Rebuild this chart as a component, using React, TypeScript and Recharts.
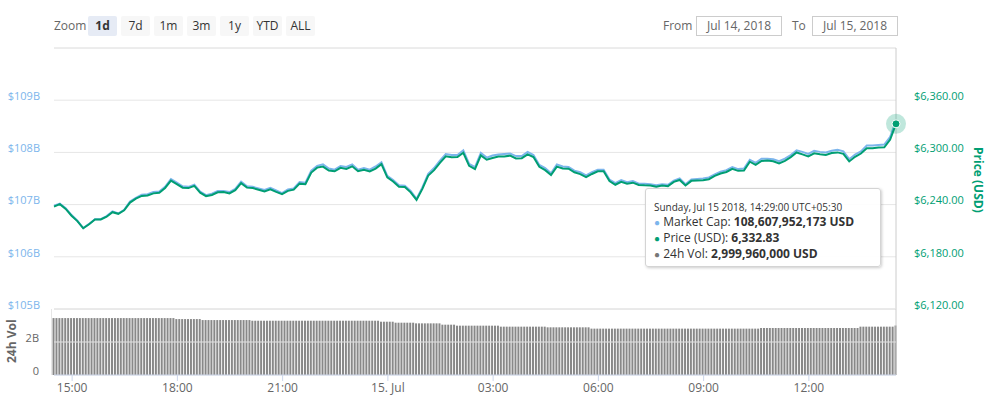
import {
  ComposedChart,
  BarChart,
  Line,
  Bar,
  XAxis,
  YAxis,
  CartesianGrid,
  ReferenceLine,
} from "recharts";

// x positions are minutes after Jul 14, 14:29 (one day window)
const tickMinutes = [31, 211, 391, 571, 751, 931, 1111, 1291];
const tickLabels = ["15:00", "18:00", "21:00", "15. Jul", "03:00", "06:00", "09:00", "12:00"];
const capTicks = [105, 106, 107, 108, 109, 110];
const priceTicks = [6120, 6180, 6240, 6300, 6360, 6420];
const volTicks = [0, 2, 4];
const zoomButtons = ["1d", "7d", "1m", "3m", "1y", "YTD", "ALL"];

// price (USD), every 10 minutes
const prices = [
  6237.7, 6240.5, 6235.0, 6227.2, 6221.0, 6212.8, 6217.4, 6223.0, 6222.9, 6226.1, 6231.3, 6229.4,
  6233.4, 6242.3, 6246.9, 6250.0, 6250.5, 6252.9, 6253.5, 6259.1, 6267.6, 6263.5, 6259.4, 6259.0,
  6261.5, 6253.7, 6249.7, 6251.1, 6254.2, 6254.4, 6252.9, 6256.6, 6264.7, 6259.5, 6259.0, 6257.0,
  6255.2, 6257.6, 6254.6, 6252.0, 6255.8, 6257.2, 6264.1, 6263.4, 6276.8, 6282.5, 6283.7, 6279.2,
  6278.3, 6282.3, 6281.0, 6284.0, 6278.3, 6279.9, 6278.1, 6281.4, 6286.5, 6271.3, 6266.6, 6260.6,
  6260.2, 6254.1, 6245.4, 6258.1, 6273.3, 6279.6, 6288.0, 6295.6, 6294.5, 6294.6, 6299.6, 6284.6,
  6280.8, 6296.6, 6291.6, 6293.6, 6295.3, 6295.4, 6296.3, 6293.1, 6293.4, 6297.8, 6294.7, 6283.4,
  6279.6, 6273.9, 6283.7, 6281.5, 6281.2, 6277.2, 6275.1, 6271.5, 6275.2, 6278.3, 6278.4, 6267.1,
  6262.8, 6266.2, 6263.9, 6265.2, 6262.5, 6262.1, 6261.9, 6260.5, 6261.9, 6261.2, 6266.1, 6268.3,
  6262.0, 6267.3, 6267.8, 6268.0, 6269.2, 6273.0, 6275.8, 6277.5, 6281.2, 6278.8, 6279.1, 6289.3,
  6285.7, 6290.2, 6290.6, 6289.8, 6287.3, 6290.3, 6294.6, 6299.9, 6297.7, 6295.4, 6299.0, 6297.8,
  6297.1, 6299.2, 6300.0, 6298.3, 6289.6, 6294.9, 6298.7, 6304.8, 6304.8, 6305.5, 6305.9, 6314.8,
  6332.83,
];

// market cap (billion USD), same timestamps
const marketCaps = [
  106.98, 107.02, 106.93, 106.8, 106.69, 106.55, 106.63, 106.72, 106.72, 106.78, 106.87, 106.83,
  106.9, 107.06, 107.13, 107.19, 107.2, 107.24, 107.25, 107.34, 107.49, 107.42, 107.35, 107.34,
  107.38, 107.25, 107.18, 107.21, 107.26, 107.26, 107.24, 107.3, 107.44, 107.35, 107.34, 107.31,
  107.28, 107.32, 107.27, 107.22, 107.29, 107.31, 107.43, 107.42, 107.65, 107.74, 107.77, 107.69,
  107.67, 107.74, 107.72, 107.77, 107.67, 107.7, 107.67, 107.73, 107.81, 107.55, 107.47, 107.37,
  107.36, 107.26, 107.11, 107.33, 107.59, 107.7, 107.84, 107.97, 107.95, 107.95, 108.04, 107.78,
  107.72, 107.99, 107.9, 107.94, 107.96, 107.97, 107.98, 107.93, 107.93, 108.01, 107.95, 107.76,
  107.7, 107.6, 107.77, 107.73, 107.72, 107.65, 107.62, 107.56, 107.62, 107.67, 107.67, 107.48,
  107.41, 107.47, 107.43, 107.45, 107.4, 107.4, 107.39, 107.37, 107.39, 107.38, 107.46, 107.5,
  107.39, 107.48, 107.49, 107.5, 107.52, 107.58, 107.63, 107.66, 107.72, 107.68, 107.69, 107.86,
  107.8, 107.88, 107.88, 107.87, 107.83, 107.88, 107.95, 108.04, 108.01, 107.97, 108.03, 108.01,
  108.0, 108.03, 108.05, 108.02, 107.87, 107.96, 108.02, 108.13, 108.13, 108.14, 108.15, 108.3,
  108.61,
];

// 24h volume (billion USD), every 5 minutes
const volumes = [
  3.45, 3.45, 3.45, 3.45, 3.45, 3.45, 3.45, 3.45, 3.45, 3.45, 3.45, 3.45, 3.45, 3.45, 3.45, 3.45, 3.45, 3.45, 3.45, 3.45, 3.45, 3.45, 3.45, 3.45,
  3.45, 3.45, 3.45, 3.45, 3.45, 3.45, 3.45, 3.45, 3.45, 3.45, 3.45, 3.45, 3.45, 3.45, 3.45, 3.45, 3.45, 3.45, 3.39, 3.39, 3.39, 3.39, 3.39, 3.39,
  3.39, 3.39, 3.39, 3.33, 3.33, 3.33, 3.33, 3.33, 3.33, 3.33, 3.33, 3.33, 3.33, 3.33, 3.33, 3.33, 3.33, 3.33, 3.33, 3.33, 3.29, 3.29, 3.29, 3.29,
  3.29, 3.29, 3.29, 3.29, 3.29, 3.29, 3.29, 3.29, 3.29, 3.29, 3.29, 3.29, 3.29, 3.29, 3.29, 3.29, 3.29, 3.29, 3.29, 3.29, 3.29, 3.29, 3.29, 3.29,
  3.29, 3.29, 3.29, 3.29, 3.29, 3.29, 3.29, 3.29, 3.29, 3.29, 3.29, 3.29, 3.29, 3.29, 3.29, 3.29, 3.23, 3.23, 3.23, 3.23, 3.23, 3.17, 3.17, 3.17,
  3.17, 3.17, 3.17, 3.17, 3.13, 3.13, 3.13, 3.13, 3.13, 3.13, 3.13, 3.13, 3.13, 3.05, 3.05, 3.05, 3.05, 3.05, 2.99, 2.99, 2.99, 2.99, 2.99, 2.99,
  2.99, 2.99, 2.99, 2.99, 2.99, 2.99, 2.99, 2.99, 2.99, 2.93, 2.93, 2.93, 2.93, 2.93, 2.93, 2.93, 2.93, 2.93, 2.93, 2.93, 2.93, 2.93, 2.93, 2.93,
  2.93, 2.89, 2.89, 2.89, 2.89, 2.89, 2.89, 2.89, 2.89, 2.89, 2.89, 2.89, 2.89, 2.89, 2.89, 2.89, 2.81, 2.81, 2.81, 2.81, 2.81, 2.81, 2.81, 2.81,
  2.81, 2.81, 2.81, 2.81, 2.81, 2.81, 2.81, 2.81, 2.81, 2.81, 2.81, 2.81, 2.81, 2.81, 2.81, 2.81, 2.81, 2.81, 2.81, 2.81, 2.81, 2.81, 2.81, 2.81,
  2.81, 2.81, 2.81, 2.81, 2.81, 2.81, 2.81, 2.81, 2.81, 2.81, 2.81, 2.81, 2.81, 2.81, 2.81, 2.81, 2.81, 2.81, 2.81, 2.81, 2.81, 2.81, 2.81, 2.81,
  2.81, 2.81, 2.85, 2.85, 2.85, 2.85, 2.85, 2.85, 2.85, 2.85, 2.85, 2.85, 2.85, 2.85, 2.85, 2.85, 2.85, 2.85, 2.85, 2.85, 2.85, 2.85, 2.85, 2.85,
  2.85, 2.85, 2.85, 2.85, 2.85, 2.85, 2.85, 2.85, 2.85, 2.85, 2.85, 2.85, 2.93, 2.93, 2.93, 2.93, 2.93, 2.93, 2.93, 2.93, 2.93, 2.93, 2.93, 2.93,
  3.0,
];

const GREEN = "#009e73";
const BLUE = "#7cb5ec";
const GRID = "#e6e6e6";

const priceData = prices.map((p, i) => ({ t: i * 10, price: p, cap: marketCaps[i] }));
const volData = volumes.map((v, i) => ({ t: i * 5, vol: v }));

const fmtPrice = (v: number) =>
  "$" + v.toLocaleString("en-US", { minimumFractionDigits: 2, maximumFractionDigits: 2 });

const CapTick = (props: any) => {
  const { y, payload } = props;
  if (payload.value === 110) return <g />;
  return (
    <text x={40} y={y - 4} dy="0.35em" textAnchor="end" fill={BLUE} fontSize={11}>
      ${payload.value}B
    </text>
  );
};

const PriceTick = (props: any) => {
  const { y, payload } = props;
  if (payload.value === 6420) return <g />;
  return (
    <text x={914} y={y - 4} dy="0.35em" textAnchor="start" fill={GREEN} fontSize={11}>
      {fmtPrice(payload.value)}
    </text>
  );
};

const VolTick = (props: any) => {
  const { y, payload } = props;
  if (payload.value === 4) return <g />;
  return (
    <text x={39} y={y - 4} dy="0.35em" textAnchor="end" fill="#666" fontSize={11}>
      {payload.value === 0 ? "0" : payload.value + "B"}
    </text>
  );
};

const EndDot = (props: any) => {
  const { cx, cy, index } = props;
  if (index !== prices.length - 1) return <g key={"d" + index} />;
  return (
    <g key="end">
      <circle cx={cx} cy={cy} r={10} fill={GREEN} fillOpacity={0.25} />
      <circle cx={cx} cy={cy} r={4} fill={GREEN} stroke="#fff" strokeWidth={1} />
    </g>
  );
};

const tipLine = { fontSize: 12, lineHeight: "15px" };
const tipDot = (c: string) => ({ color: c, fontSize: 10 });

export default function App() {
  return (
    <div
      style={{
        position: "absolute",
        left: 0,
        top: 0,
        width: 989,
        height: 397,
        background: "#fff",
        fontFamily: "'Open Sans', sans-serif",
        color: "#333",
      }}
    >
      {/* range selector */}
      <div style={{ position: "absolute", left: 54, top: 16, height: 20, lineHeight: "20px", fontSize: 12, color: "#666" }}>
        Zoom
      </div>
      <div style={{ position: "absolute", left: 88, top: 16, display: "flex", gap: 4 }}>
        {zoomButtons.map((b, i) => (
          <div
            key={b}
            style={{
              width: 29,
              height: 20,
              lineHeight: "20px",
              textAlign: "center",
              fontSize: 12,
              borderRadius: 2,
              background: i === 0 ? "#e6ebf5" : "#f7f7f7",
              fontWeight: i === 0 ? 700 : 400,
              color: "#333",
            }}
          >
            {b}
          </div>
        ))}
      </div>
      <div style={{ position: "absolute", left: 663, top: 16, lineHeight: "20px", fontSize: 12, color: "#666" }}>From</div>
      <div
        style={{
          position: "absolute", left: 696, top: 16, width: 84, height: 18, lineHeight: "18px",
          border: "1px solid #ccc", textAlign: "center", fontSize: 12, color: "#666",
        }}
      >
        Jul 14, 2018
      </div>
      <div style={{ position: "absolute", left: 792, top: 16, lineHeight: "20px", fontSize: 12, color: "#666" }}>To</div>
      <div
        style={{
          position: "absolute", left: 812, top: 16, width: 84, height: 18, lineHeight: "18px",
          border: "1px solid #ccc", textAlign: "center", fontSize: 12, color: "#666",
        }}
      >
        Jul 15, 2018
      </div>

      {/* price / market cap pane */}
      <div style={{ position: "absolute", left: 0, top: 0 }}>
        <ComposedChart width={989} height={322} data={priceData} margin={{ top: 48, right: 0, bottom: 13, left: 0 }}>
          <CartesianGrid yAxisId="price" vertical={false} stroke={GRID} />
          <XAxis type="number" dataKey="t" domain={[0, 1440]} hide />
          <YAxis
            yAxisId="cap"
            orientation="left"
            width={54}
            domain={[105, 110]}
            ticks={capTicks}
            interval={0}
            axisLine={false}
            tickLine={false}
            tick={<CapTick />}
          />
          <YAxis
            yAxisId="price"
            orientation="right"
            width={93}
            domain={[6120, 6420]}
            ticks={priceTicks}
            interval={0}
            axisLine={false}
            tickLine={false}
            tick={<PriceTick />}
          />
          <ReferenceLine yAxisId="price" y={6420} stroke={GRID} />
          <ReferenceLine yAxisId="price" y={6120} stroke={GRID} />
          <ReferenceLine yAxisId="price" x={1440} stroke="#cccccc" />
          <Line
            yAxisId="cap"
            dataKey="cap"
            stroke={BLUE}
            strokeWidth={2}
            dot={false}
            isAnimationActive={false}
          />
          <Line
            yAxisId="price"
            dataKey="price"
            stroke={GREEN}
            strokeWidth={2}
            dot={EndDot}
            isAnimationActive={false}
          />
        </ComposedChart>
      </div>

      {/* volume pane */}
      <div style={{ position: "absolute", left: 0, top: 300 }}>
        <BarChart width={989} height={97} data={volData} margin={{ top: 9, right: 93, bottom: 0, left: 0 }}>
          <CartesianGrid vertical={false} stroke={GRID} />
          <XAxis
            type="number"
            dataKey="t"
            domain={[0, 1440]}
            ticks={tickMinutes}
            interval={0}
            height={22}
            tickFormatter={(v: number) => tickLabels[tickMinutes.indexOf(v)]}
            axisLine={{ stroke: "#ccd6eb" }}
            tickLine={{ stroke: "#ccd6eb" }}
            tickSize={6}
            tick={{ fill: "#666", fontSize: 12 }}
          />
          <YAxis
            width={54}
            domain={[0, 4]}
            ticks={volTicks}
            interval={0}
            axisLine={false}
            tickLine={false}
            tick={<VolTick />}
          />
          <ReferenceLine y={2} stroke={GRID} />
          <ReferenceLine x={1440} stroke="#cccccc" />
          <Bar dataKey="vol" fill="#888888" barSize={2} isAnimationActive={false} />
        </BarChart>
      </div>
      <div style={{ position: "absolute", left: 51, top: 309, width: 1, height: 66, background: "#e6e6e6" }} />

      {/* axis titles */}
      <div
        style={{
          position: "absolute", left: 3, top: 317, height: 48, width: 16, fontSize: 12, fontWeight: 700,
          color: "#666", writingMode: "vertical-rl", transform: "rotate(180deg)", textAlign: "center",
          whiteSpace: "nowrap",
        }}
      >
        24h Vol
      </div>
      <div
        style={{
          position: "absolute", left: 971, top: 142, height: 76, width: 16, fontSize: 12, fontWeight: 700,
          color: GREEN, writingMode: "vertical-rl", textAlign: "center", whiteSpace: "nowrap",
        }}
      >
        Price (USD)
      </div>

      {/* hover tooltip */}
      <div
        style={{
          position: "absolute", left: 645, top: 188, width: 236, height: 79, boxSizing: "border-box",
          background: "rgba(255,255,255,0.9)", border: "1px solid #d4d4d4", borderRadius: 3,
          boxShadow: "1px 1px 3px rgba(0,0,0,0.2)", padding: "11px 0 0 8px", color: "#333", whiteSpace: "nowrap",
        }}
      >
        <div style={{ fontSize: 10, lineHeight: "14px" }}>Sunday, Jul 15 2018, 14:29:00 UTC+05:30</div>
        <div style={tipLine}>
          <span style={tipDot(BLUE)}>●</span> Market Cap: <b>108,607,952,173 USD</b>
        </div>
        <div style={tipLine}>
          <span style={tipDot(GREEN)}>●</span> Price (USD): <b>6,332.83</b>
        </div>
        <div style={tipLine}>
          <span style={tipDot("#777")}>●</span> 24h Vol: <b>2,999,960,000 USD</b>
        </div>
      </div>
    </div>
  );
}
